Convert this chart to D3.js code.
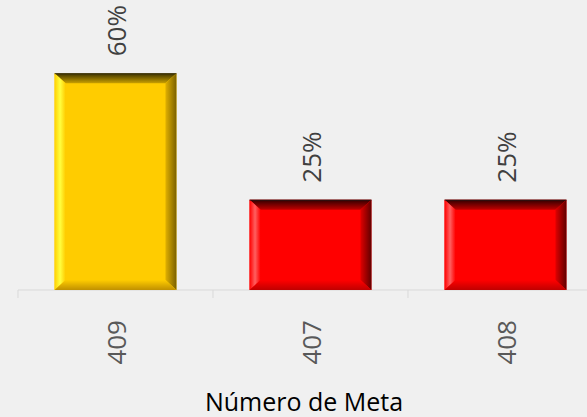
<!DOCTYPE html>
<html lang="es">
<head>
<meta charset="UTF-8">
<script src="https://d3js.org/d3.v7.min.js"></script>
<style>
  body { margin: 0; background: #f0f0f0; }
  svg { display: block; font-family: "Open Sans", "Noto Sans", sans-serif; }
</style>
</head>
<body>
<div id="chart"></div>
<script>
const categories = ["409", "407", "408"];
const values = [60, 25, 25];
const colors = ["#ffcc00", "#ff0000", "#ff0000"];
const axisTitle = "Número de Meta";

const width = 587, height = 417;

const svg = d3.select("#chart").append("svg")
  .attr("width", width).attr("height", height);

svg.append("rect").attr("width", width).attr("height", height).attr("fill", "#f0f0f0");

const x = d3.scaleBand().domain(categories).range([18, 603]).paddingInner(0.375).paddingOuter(0.1875);
const y = d3.scaleLinear().domain([0, 80]).range([290, 1]);

// bevel gradients
const defs = svg.append("defs");
function grad(id, x1, y1, x2, y2, stops) {
  const g = defs.append("linearGradient").attr("id", id)
    .attr("x1", x1).attr("y1", y1).attr("x2", x2).attr("y2", y2);
  stops.forEach(s => g.append("stop").attr("offset", s[0]).attr("stop-color", s[1]));
}
const shades = {
  "#ffcc00": { top: ["#3a3000", "#c9a000"], left: ["#ffd000", "#ffff40"], right: ["#e0b000", "#7a6000"], bottom: ["#ffcc00", "#c09000"] },
  "#ff0000": { top: ["#300000", "#c00000"], left: ["#ff0000", "#ff6060"], right: ["#e00000", "#600000"], bottom: ["#ff0000", "#c00000"] }
};
Object.entries(shades).forEach(([c, s], i) => {
  grad("t" + i, 0, 0, 0, 1, [[0, s.top[0]], [1, s.top[1]]]);
  grad("l" + i, 0, 0, 1, 0, [[0, s.left[0]], [0.5, s.left[1]], [1, c]]);
  grad("r" + i, 0, 0, 1, 0, [[0, s.right[0]], [1, s.right[1]]]);
  grad("b" + i, 0, 0, 0, 1, [[0, s.bottom[0]], [1, s.bottom[1]]]);
});
const shadeIdx = c => Object.keys(shades).indexOf(c);

// axis line and ticks
svg.append("line").attr("x1", 18).attr("x2", width).attr("y1", 290).attr("y2", 290)
  .attr("stroke", "#d9d9d9").attr("stroke-width", 1);
const step = x.step();
[18, 18 + step, 18 + 2 * step].forEach(t => {
  svg.append("line").attr("x1", t).attr("x2", t).attr("y1", 290).attr("y2", 298)
    .attr("stroke", "#d9d9d9");
});

const bars = svg.append("g").selectAll("g").data(categories).join("g");
bars.each(function(d, i) {
  const g = d3.select(this);
  const x0 = x(d), x1 = x0 + x.bandwidth(), y0 = y(values[i]), y1 = y(0);
  const k = shadeIdx(colors[i]);
  const bw = 11, bt = 10;
  g.append("rect").attr("x", x0).attr("y", y0).attr("width", x1 - x0).attr("height", y1 - y0)
    .attr("fill", colors[i]);
  const poly = (pts, fill) => g.append("polygon").attr("points", pts.map(p => p.join(",")).join(" ")).attr("fill", fill);
  poly([[x0, y0], [x1, y0], [x1 - bw, y0 + bt], [x0 + bw, y0 + bt]], `url(#t${k})`);
  poly([[x0, y0], [x0 + bw, y0 + bt], [x0 + bw, y1 - bt], [x0, y1]], `url(#l${k})`);
  poly([[x1, y0], [x1, y1], [x1 - bw, y1 - bt], [x1 - bw, y0 + bt]], `url(#r${k})`);
  poly([[x0, y1], [x0 + bw, y1 - bt], [x1 - bw, y1 - bt], [x1, y1]], `url(#b${k})`);
  g.append("line").attr("x1", x0).attr("x2", x1).attr("y1", y0 + 0.5).attr("y2", y0 + 0.5)
    .attr("stroke", "#222").attr("stroke-opacity", 0.6);

  const cx = x0 + x.bandwidth() / 2;

  // value label
  g.append("text")
    .attr("transform", `translate(${cx + 10},${y0 - 17}) rotate(-90)`)
    .attr("text-anchor", "start")
    .attr("font-size", 26)
    .attr("fill", "#404040")
    .text(values[i] + "%");

  // category label
  g.append("text")
    .attr("transform", `translate(${cx + 10},320) rotate(-90)`)
    .attr("text-anchor", "end")
    .attr("font-size", 26)
    .attr("fill", "#595959")
    .text(d);
});

svg.append("text").attr("x", 304).attr("y", 411)
  .attr("text-anchor", "middle").attr("font-size", 25).attr("fill", "#000")
  .text(axisTitle);
</script>
</body>
</html>
